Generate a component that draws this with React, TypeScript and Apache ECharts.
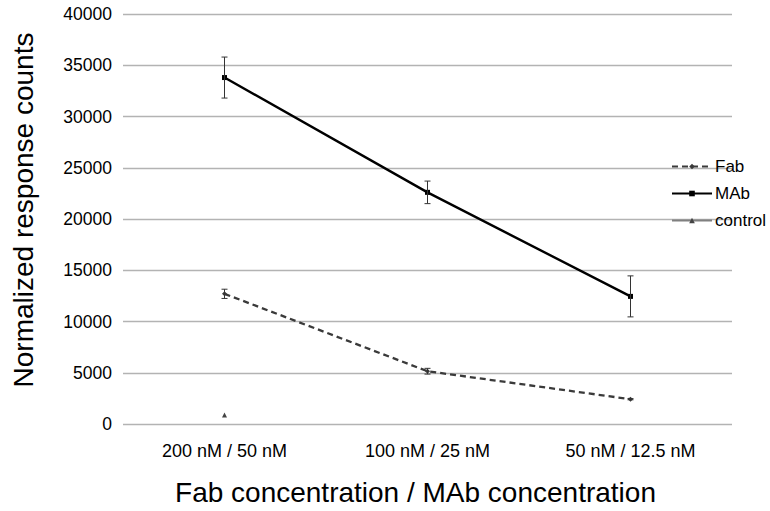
import React, { useEffect, useRef } from "react";
import * as echarts from "echarts";

const categories = ["200 nM / 50 nM", "100 nM / 25 nM", "50 nM / 12.5 nM"];
const fabValues = [12700, 5150, 2420];
const fabErrors = [450, 280, 60];
const mabValues = [33800, 22600, 12450];
const mabErrors = [2000, 1100, 2000];
const controlValues: (number | null)[] = [880, null, null];
const yTicks = { min: 0, max: 40000, interval: 5000 };

const FONT = "'Liberation Sans', Arial, sans-serif";

function errData(vals: number[], errs: number[]) {
  return vals.map((v, i) => [i, v - errs[i], v + errs[i]]);
}

function errSeries(name: string, vals: number[], errs: number[], color: string) {
  return {
    type: "custom",
    name: name + "_err",
    data: errData(vals, errs),
    z: 5,
    silent: true,
    renderItem: (params: any, api: any) => {
      const x = api.value(0);
      const lo = api.coord([x, api.value(1)]);
      const hi = api.coord([x, api.value(2)]);
      const cap = 3;
      const style = { stroke: color, lineWidth: 1 };
      return {
        type: "group",
        children: [
          { type: "line", shape: { x1: lo[0], y1: lo[1], x2: hi[0], y2: hi[1] }, style },
          { type: "line", shape: { x1: lo[0] - cap, y1: lo[1], x2: lo[0] + cap, y2: lo[1] }, style },
          { type: "line", shape: { x1: hi[0] - cap, y1: hi[1], x2: hi[0] + cap, y2: hi[1] }, style },
        ],
      };
    },
  };
}

export default function App() {
  const ref = useRef<HTMLDivElement>(null);
  useEffect(() => {
    const chart = echarts.init(ref.current!, null, { renderer: "svg" });
    chart.setOption({
      animation: false,
      backgroundColor: "#ffffff",
      textStyle: { fontFamily: FONT },
      grid: { left: 123, right: 38, top: 14, bottom: 85 },
      legend: {
        orient: "vertical",
        left: 666,
        top: 153,
        itemGap: 10,
        itemWidth: 40,
        itemHeight: 7,
        data: ["Fab", "MAb", "control"],
        textStyle: { fontSize: 17, color: "#000", fontFamily: FONT, padding: [0, 0, 0, -2] },
      },
      xAxis: {
        type: "category",
        data: categories,
        boundaryGap: true,
        name: "Fab concentration / MAb concentration",
        nameLocation: "middle",
        nameGap: 54,
        nameTextStyle: { fontSize: 28, color: "#000", fontFamily: FONT, padding: [0, 24, 0, 0] },
        axisLine: { show: false },
        axisTick: { show: false },
        axisLabel: { fontSize: 18, color: "#000", margin: 18, fontFamily: FONT },
      },
      yAxis: {
        type: "value",
        min: yTicks.min,
        max: yTicks.max,
        interval: yTicks.interval,
        name: "Normalized response counts",
        nameLocation: "middle",
        nameGap: 86,
        nameTextStyle: { fontSize: 28, color: "#000", fontFamily: FONT, padding: [0, 0, 0, 18] },
        axisLine: { show: false },
        axisTick: { show: false },
        axisLabel: {
          fontSize: 17.5,
          color: "#000",
          margin: 11,
          fontFamily: FONT,
          formatter: (v: number) => String(v),
        },
        splitLine: { lineStyle: { color: "#b3b3b3", width: 1.3 } },
      },
      series: [
        {
          name: "Fab",
          type: "line",
          data: fabValues,
          symbol: "diamond",
          symbolSize: 5,
          itemStyle: { color: "#3a3a3a" },
          lineStyle: { color: "#3a3a3a", width: 2.3, type: [6, 4] },
          z: 3,
        },
        {
          name: "MAb",
          type: "line",
          data: mabValues,
          symbol: "rect",
          symbolSize: 5,
          itemStyle: { color: "#000" },
          lineStyle: { color: "#000", width: 2.4 },
          z: 3,
        },
        {
          name: "control",
          type: "line",
          data: controlValues,
          symbol: "triangle",
          symbolSize: 5,
          itemStyle: { color: "#444" },
          lineStyle: { color: "#808080", width: 2.3 },
          z: 3,
        },
        errSeries("Fab", fabValues, fabErrors, "#333"),
        errSeries("MAb", mabValues, mabErrors, "#333"),
      ],
    });
    return () => chart.dispose();
  }, []);
  return (
    <div
      ref={ref}
      style={{ position: "fixed", left: 0, top: 0, width: 770, height: 511, background: "#fff" }}
    />
  );
}
